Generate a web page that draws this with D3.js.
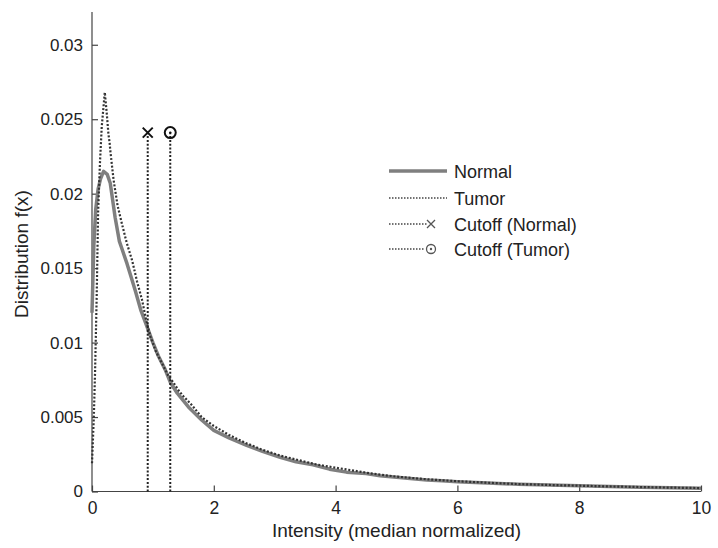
<!DOCTYPE html>
<html><head><meta charset="utf-8">
<script src="https://cdn.jsdelivr.net/npm/d3@7"></script>
<style>body{margin:0;background:#fff}svg{display:block}text{font-family:"Liberation Sans",Arial,sans-serif;fill:#222}</style>
</head><body><svg id="c" width="718" height="548"></svg>
<script>
const normalX = [0,0.03,0.06,0.10,0.14,0.19,0.25,0.30,0.38,0.45,0.50,0.575,0.65,0.71,0.80,0.90,1.00,1.09,1.20,1.29,1.40,1.50,1.60,1.80,2.00,2.25,2.54,2.80,3.09,3.35,3.63,3.90,4.18,4.50,4.73,5.00,5.27,5.50,5.75,6.00,6.50,7.00,7.50,8.00,8.50,9.00,9.50,10.0];
const normalY = [0.0120,0.0165,0.0189,0.0203,0.0210,0.0215,0.0213,0.0207,0.0184,0.0168,0.0162,0.0153,0.0143,0.0135,0.0122,0.0111,0.0100,0.0091,0.0082,0.0073,0.0066,0.0061,0.0056,0.0048,0.0041,0.0036,0.0031,0.0027,0.0023,0.0020,0.0018,0.0015,0.0013,0.0012,0.00106,0.00096,0.00086,0.00078,0.00072,0.00066,0.00057,0.00049,0.00043,0.00038,0.00033,0.00029,0.00025,0.00022];
const tumorX = [0,0.03,0.05,0.077,0.10,0.13,0.16,0.21,0.24,0.27,0.29,0.30,0.355,0.42,0.49,0.57,0.66,0.74,0.82,0.89,0.96,1.05,1.15,1.25,1.34,1.42,1.50,1.64,1.80,2.00,2.25,2.50,2.80,3.10,3.40,3.70,4.00,4.30,4.60,5.00,5.50,6.00,6.50,7.00,7.50,8.00,8.50,9.00,9.50,10.0];
const tumorY = [0.0019,0.0050,0.0080,0.0131,0.0187,0.0220,0.0245,0.0268,0.0255,0.0240,0.0234,0.0229,0.0209,0.0192,0.0180,0.0167,0.0155,0.0141,0.0129,0.0115,0.0104,0.0094,0.0086,0.0078,0.0073,0.0068,0.0064,0.0058,0.0050,0.0044,0.0038,0.0033,0.0028,0.0024,0.0021,0.0018,0.0016,0.0014,0.0012,0.0010,0.00082,0.00069,0.00059,0.00050,0.00044,0.00039,0.00034,0.00030,0.00026,0.00023];
const cutoffNames = ["Cutoff (Normal)","Cutoff (Tumor)"];
const cutoffX = [0.915, 1.285];
const cutoffY = [0.0241, 0.0241];
const xTicks = [0,2,4,6,8,10];
const yTicks = [0,0.005,0.01,0.015,0.02,0.025,0.03];
const legendLabels = ["Normal","Tumor","Cutoff (Normal)","Cutoff (Tumor)"];

const svg = d3.select("#c");
const x = d3.scaleLinear().domain([0,10]).range([92,701]);
const y = d3.scaleLinear().domain([0,0.0322]).range([491.5,12]);

// axes (ticks inward)
const gx = svg.append("g").attr("transform","translate(0,491.5)")
  .call(d3.axisBottom(x).tickValues(xTicks).tickSize(-6).tickPadding(10).tickFormat(d3.format("d")));
const gy = svg.append("g").attr("transform","translate(92,0)")
  .call(d3.axisLeft(y).tickValues(yTicks).tickSize(-6).tickPadding(9).tickFormat(d => d===0 ? "0" : String(+d.toFixed(3))));
[gx,gy].forEach(g=>{
  g.select(".domain").attr("stroke","#444").attr("stroke-width",1.2);
  g.selectAll(".tick line").attr("stroke","#444").attr("stroke-width",1.2);
  g.selectAll(".tick text").attr("font-size",17.5).attr("fill","#222").style("font-family","'Liberation Sans',Arial,sans-serif");
});
gy.selectAll(".tick text").attr("font-size",17);
gx.select(".domain").attr("d","M92,0H701");
gy.select(".domain").attr("d","M0,491.5V12");

svg.append("text").attr("x",396.5).attr("y",537).attr("text-anchor","middle").attr("font-size",19).text("Intensity (median normalized)");
svg.append("text").attr("transform","translate(28,254) rotate(-90)").attr("text-anchor","middle").attr("font-size",19).text("Distribution f(x)");

const line = d3.line().x(d=>x(d[0])).y(d=>y(d[1]));
const nData = normalX.map((v,i)=>[v,normalY[i]]);
const tData = tumorX.map((v,i)=>[v,tumorY[i]]);
svg.append("path").datum(nData).attr("d",line).attr("fill","none").attr("stroke","#7f7f7f").attr("stroke-width",3.5).attr("stroke-linejoin","round");
svg.append("path").datum(tData).attr("d",line).attr("fill","none").attr("stroke","#333").attr("stroke-width",2.2).attr("stroke-dasharray","2,1.8");

// cutoffs
cutoffX.forEach((cx,i)=>{
  svg.append("line").attr("x1",x(cx)).attr("x2",x(cx)).attr("y1",y(0)).attr("y2",y(cutoffY[i]))
    .attr("stroke","#222").attr("stroke-width",2).attr("stroke-dasharray","2,1.8");
});
function cross(g,cx,cy,s,col,w){
  g.append("path").attr("d",`M${cx-s},${cy-s}L${cx+s},${cy+s}M${cx-s},${cy+s}L${cx+s},${cy-s}`).attr("stroke",col).attr("stroke-width",w).attr("fill","none");
}
function circ(g,cx,cy,r,col,w){
  g.append("circle").attr("cx",cx).attr("cy",cy).attr("r",r).attr("fill","none").attr("stroke",col).attr("stroke-width",w);
  g.append("circle").attr("cx",cx).attr("cy",cy).attr("r",1.2).attr("fill",col);
}
cross(svg,x(cutoffX[0]),y(cutoffY[0]),5,"#111",2);
circ(svg,x(cutoffX[1]),y(cutoffY[1]),5.5,"#111",2);

// legend
const ly = [171,198,224,249];
const lg = svg.append("g");
lg.append("line").attr("x1",389).attr("x2",447).attr("y1",ly[0]).attr("y2",ly[0]).attr("stroke","#7f7f7f").attr("stroke-width",3.5);
lg.append("line").attr("x1",389).attr("x2",447).attr("y1",ly[1]).attr("y2",ly[1]).attr("stroke","#444").attr("stroke-width",1.5).attr("stroke-dasharray","1.5,1.5");
lg.append("line").attr("x1",389).attr("x2",427).attr("y1",ly[2]).attr("y2",ly[2]).attr("stroke","#444").attr("stroke-width",1.5).attr("stroke-dasharray","1.5,1.5");
lg.append("line").attr("x1",389).attr("x2",425).attr("y1",ly[3]).attr("y2",ly[3]).attr("stroke","#444").attr("stroke-width",1.5).attr("stroke-dasharray","1.5,1.5");
cross(lg,431,ly[2],4,"#555",1.3);
circ(lg,431,ly[3],4.5,"#555",1.3);
legendLabels.forEach((t,i)=>{
  lg.append("text").attr("x",454).attr("y",ly[i]+6.5).attr("font-size",18).text(t);
});
</script></body></html>
